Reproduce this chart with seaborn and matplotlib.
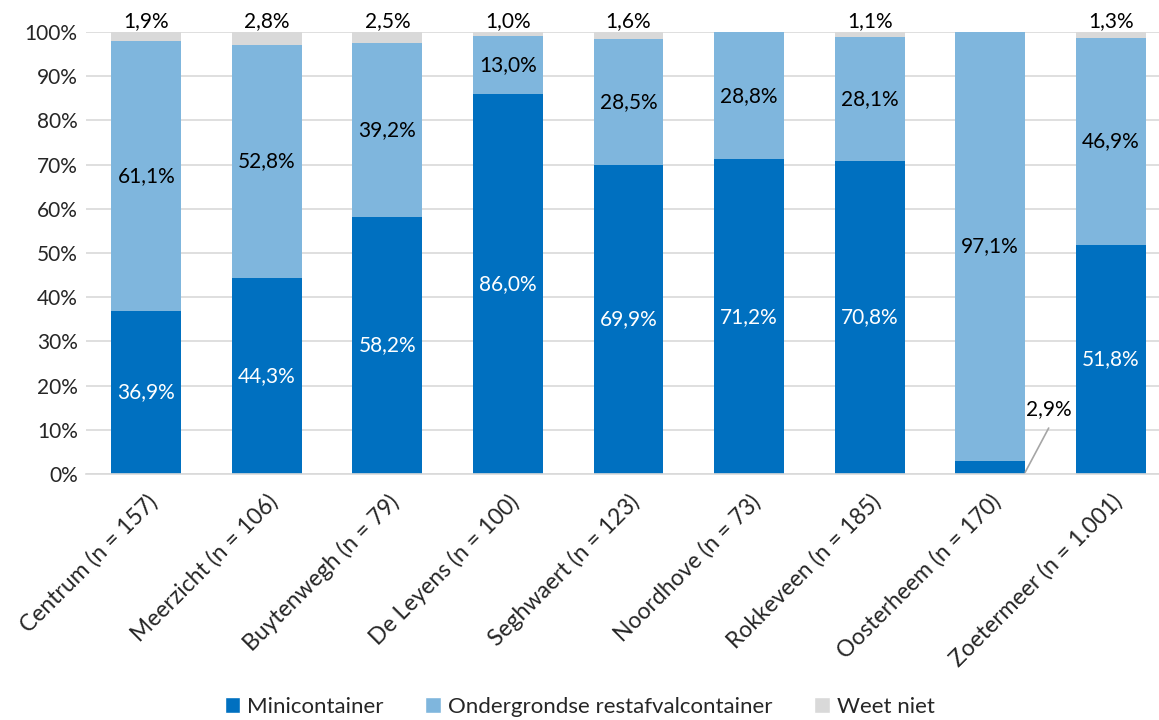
import pandas as pd
import numpy as np
import matplotlib
matplotlib.use('Agg')
import matplotlib.pyplot as plt
import seaborn as sns
from matplotlib.patches import Patch

wijken = ['Centrum (n = 157)', 'Meerzicht (n = 106)', 'Buytenwegh (n = 79)',
          'De Leyens (n = 100)', 'Seghwaert (n = 123)', 'Noordhove (n = 73)',
          'Rokkeveen (n = 185)', 'Oosterheem (n = 170)', 'Zoetermeer (n = 1.001)']
mini = [36.9, 44.3, 58.2, 86.0, 69.9, 71.2, 70.8, 2.9, 51.8]
ondergronds = [61.1, 52.8, 39.2, 13.0, 28.5, 28.8, 28.1, 97.1, 46.9]
weet_niet = [1.9, 2.8, 2.5, 1.0, 1.6, 0.0, 1.1, 0.0, 1.3]

series = ['Minicontainer', 'Ondergrondse restafvalcontainer', 'Weet niet']
kleuren = ['#0070C0', '#7FB6DD', '#D9D9D9']

df = pd.DataFrame({'wijk': wijken, 'mini': mini,
                   'onder': ondergronds, 'weet': weet_niet})

sns.set_style('white')
plt.rcParams['font.family'] = ['Lato', 'DejaVu Sans']

fig = plt.figure(figsize=(11.59, 7.2), dpi=100)
ax = fig.add_axes([86/1159, 1 - 474/720, (1159-86)/1159, (474-32)/720])

w = 0.58
kw = dict(width=w, saturation=1, ax=ax, zorder=3, linewidth=0, edgecolor='none')
sns.barplot(data=df, x='wijk', y='mini', color=kleuren[0], **kw)
sns.barplot(data=df, x='wijk', y='onder', color=kleuren[1], bottom=df['mini'], **kw)
sns.barplot(data=df, x='wijk', y='weet', color=kleuren[2],
            bottom=df['mini'] + df['onder'], **kw)

fmt = lambda v: f'{v:.1f}%'.replace('.', ',')
fs = 15
fs_big = 16.5
for i in range(len(wijken)):
    m, o, wn = mini[i], ondergronds[i], weet_niet[i]
    if m > 5:
        ax.text(i, m / 2, fmt(m), ha='center', va='center', color='white', fontsize=fs, zorder=5)
    else:
        ax.annotate('', xy=(i + w / 2, 0.4), xytext=(i + 0.485, 10.4),
                    arrowprops=dict(arrowstyle='-', color='#A6A6A6', lw=1.2,
                                    shrinkA=0, shrinkB=0), zorder=5)
        ax.text(i + 0.49, 14.6, fmt(m), ha='center', va='center', fontsize=fs,
                color='black', zorder=5)
    ax.text(i, m + o / 2, fmt(o), ha='center', va='center', color='black', fontsize=fs, zorder=5)
    if wn > 0:
        ax.text(i, 100.3, fmt(wn), ha='center', va='bottom', color='black', fontsize=fs, zorder=5)

ax.set_ylim(0, 100)
ax.set_xlim(-0.5, 8.4)
ax.set_yticks(np.arange(0, 101, 10))
ax.set_yticklabels([f'{v}%' for v in range(0, 101, 10)], fontsize=fs)
ax.set_xticks(range(len(wijken)))
ax.set_xticklabels(wijken, rotation=45, ha='right', rotation_mode='anchor', fontsize=fs_big)
ax.tick_params(axis='x', pad=12, length=0)
ax.tick_params(axis='y', pad=6, length=0)
ax.set_xlabel('')
ax.set_ylabel('')
ax.yaxis.grid(True, color='#D9D9D9', lw=1.2, zorder=0)
for s in ['top', 'right', 'left']:
    ax.spines[s].set_visible(False)
ax.spines['bottom'].set_color('#D9D9D9')
ax.spines['bottom'].set_linewidth(1.2)
ax.spines['bottom'].set_zorder(4)

handles = [Patch(facecolor=c, label=s) for c, s in zip(kleuren, series)]
fig.legend(handles=handles, loc='center', bbox_to_anchor=(0.5, 1 - 707/720),
           ncol=3, frameon=False, fontsize=16, handlelength=0.7, handleheight=0.7,
           handletextpad=0.3, columnspacing=1.9)

fig.savefig('out.png', dpi=100)
